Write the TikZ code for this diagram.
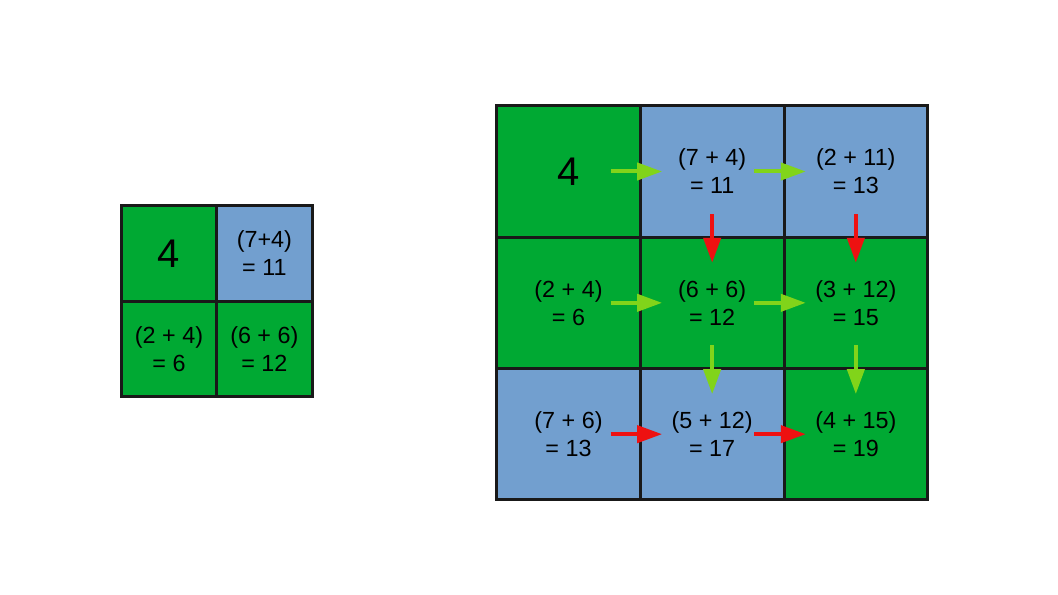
\documentclass[tikz,border=0pt]{standalone}
\usepackage{fontspec}
\setmainfont{Liberation Sans}
\usetikzlibrary{arrows.meta,positioning}
\definecolor{cellgreen}{HTML}{00A933}
\definecolor{cellblue}{HTML}{729FCF}
\definecolor{arrowgreen}{HTML}{81D41A}
\definecolor{arrowred}{HTML}{EE1111}

\begin{document}
\begin{tikzpicture}[x=0.75pt,y=-0.75pt,on grid,node distance=98.5pt and 107.75pt]
       \tikzstyle{cell}=[draw=black!90, line width=2.25pt, minimum width=107.75pt, minimum height=98.5pt,
                         inner sep=0pt, align=center, font=\fontsize{17.5}{21}\selectfont]
       \tikzstyle{smallcell}=[cell, minimum width=71.5pt, minimum height=71.5pt]
       \tikzstyle{greencell}=[fill=cellgreen]
       \tikzstyle{bluecell}=[fill=cellblue]
       \tikzstyle{bignum}=[font=\fontsize{30}{36}\selectfont]
       \tikzstyle{gostep}=[arrowgreen, line width=3pt, -{Triangle[length=18.75pt,width=12.75pt]}]
       \tikzstyle{stopstep}=[gostep, arrowred]
       \tikzstyle{across}=[shorten <=31.5pt, shorten >=37.5pt]
       \tikzstyle{down}=[shorten <=32pt, shorten >=30pt]

       \fill[white] (0,0) rectangle (1058,595);

       % small table
       \node[smallcell, greencell, bignum] (s_11) at (169,253.5) {4};
       \node[smallcell, bluecell] (s_12) [right=71.5pt of s_11] {(7+4)\\= 11};
       \node[smallcell, greencell] (s_21) [below=71.5pt of s_11] {(2 + 4)\\= 6};
       \node[smallcell, greencell] (s_22) [right=71.5pt of s_21] {(6 + 6)\\= 12};

       % big table
       \node[cell, greencell, bignum] (b_11) at (568.5,171.5) {4};
       \node[cell, bluecell] (b_12) [right=of b_11] {(7 + 4)\\= 11};
       \node[cell, bluecell] (b_13) [right=of b_12] {(2 + 11)\\= 13};
       \node[cell, greencell] (b_21) [below=of b_11] {(2 + 4)\\= 6};
       \node[cell, greencell] (b_22) [right=of b_21] {(6 + 6)\\= 12};
       \node[cell, greencell] (b_23) [right=of b_22] {(3 + 12)\\= 15};
       \node[cell, bluecell] (b_31) [below=of b_21] {(7 + 6)\\= 13};
       \node[cell, bluecell] (b_32) [right=of b_31] {(5 + 12)\\= 17};
       \node[cell, greencell] (b_33) [right=of b_32] {(4 + 15)\\= 19};

       \path[gostep, across]
       (b_11.center) edge (b_12.center)
       (b_12.center) edge (b_13.center)
       (b_21.center) edge (b_22.center)
       (b_22.center) edge (b_23.center);
       \path[gostep, down]
       (b_22.center) edge (b_32.center)
       (b_23.center) edge (b_33.center);
       \path[stopstep, down]
       (b_12.center) edge (b_22.center)
       (b_13.center) edge (b_23.center);
       \path[stopstep, across]
       (b_31.center) edge (b_32.center)
       (b_32.center) edge (b_33.center);

     \end{tikzpicture}
\end{document}
